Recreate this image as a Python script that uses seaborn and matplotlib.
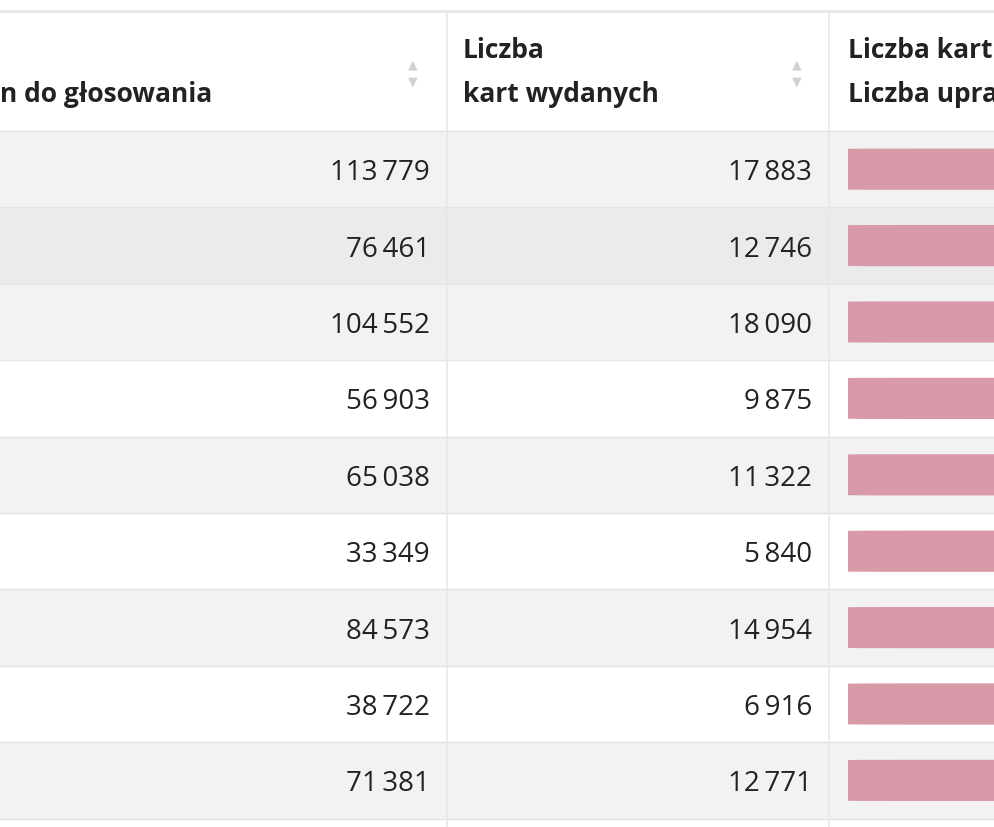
import numpy as np
import pandas as pd
import matplotlib
matplotlib.use('Agg')
import matplotlib.pyplot as plt
import seaborn as sns
from matplotlib.patches import FancyBboxPatch

uprawnieni = [113779, 76461, 104552, 56903, 65038, 33349, 84573, 38722, 71381]
wydane = [17883, 12746, 18090, 9875, 11322, 5840, 14954, 6916, 12771]
col_headers = [["n do głosowania"], ["Liczba", "kart wydanych"], ["Liczba kart", "Liczba upra"]]


def fmt(v):
    return f"{v:,}".replace(",", "\u2009")


W, H = 994, 828
fig = plt.figure(figsize=(W / 100, H / 100), dpi=100)
ax = fig.add_axes([0, 0, 1, 1])
ax.set_xlim(0, W)
ax.set_ylim(H, 0)
ax.axis('off')
plt.rcParams['font.family'] = 'Open Sans'

top, head_h, row_h = 12, 120, 76.4
n = len(uprawnieni)
row_colors = ['#f2f2f2', '#ebebeb', '#f2f2f2', '#ffffff', '#f2f2f2',
              '#ffffff', '#f2f2f2', '#ffffff', '#f2f2f2']

ax.axhline(top, color='#e6e6e6', lw=2)
for i in range(n):
    y0 = top + head_h + i * row_h
    ax.add_patch(plt.Rectangle((0, y0), W, row_h, color=row_colors[i], lw=0))
    ax.plot([0, W], [y0, y0], color='#e4e4e4', lw=1)
ax.plot([0, W], [top + head_h + n * row_h] * 2, color='#e4e4e4', lw=1)
for x in [447, 829]:
    ax.plot([x, x], [top, H], color='#e8e8e8', lw=1.2)

# headers
hx = [0, 463, 848]
for x, lines in zip(hx, col_headers):
    for j, t in enumerate(lines):
        yb = 102 if len(lines) == 1 else 58 + 44 * j
        ax.text(x, yb, t, fontsize=19, fontweight='bold', color='#222222',
                ha='left', va='baseline')
for x in [413, 797]:
    ax.text(x, 65, '\u25b2', fontsize=9, color='#d0d0d0', ha='center', va='center',
            fontfamily='DejaVu Sans')
    ax.text(x, 82, '\u25bc', fontsize=9, color='#d0d0d0', ha='center', va='center',
            fontfamily='DejaVu Sans')

for i in range(n):
    yc = top + head_h + (i + 0.5) * row_h + 3
    ax.text(430, yc, fmt(uprawnieni[i]), fontsize=20, color='#222222',
            ha='right', va='center')
    ax.text(812, yc, fmt(wydane[i]), fontsize=20, color='#222222',
            ha='right', va='center')

# bar column: share of issued cards
y_top = top + head_h
y_bot = top + head_h + n * row_h
bx = fig.add_axes([848 / W, 1 - y_bot / H, (W - 848) / W, (y_bot - y_top) / H])
df = pd.DataFrame({'row': range(n),
                   'share': np.array(wydane) / np.array(uprawnieni)})
sns.barplot(data=df, x='share', y='row', orient='h', color='#d89aa8',
            saturation=1, width=0.54, ax=bx)
bx.set_xlim(0, 0.1)
bx.set_ylim(n - 0.5, -0.5)
bx.axis('off')
bx.patch.set_alpha(0)

# round the left ends of the bars
for p in list(bx.patches):
    x0, y0, w, h = p.get_x(), p.get_y(), p.get_width(), p.get_height()
    p.remove()
    bx.add_patch(FancyBboxPatch((x0, y0), w, h, boxstyle='round,pad=0,rounding_size=0.05',
                                mutation_aspect=0.004 / 0.05 * 0 + 1.0 / 0.05 * 0.05 * 0.06,
                                color='#d89aa8', lw=0))

fig.savefig('out.png', dpi=100)
